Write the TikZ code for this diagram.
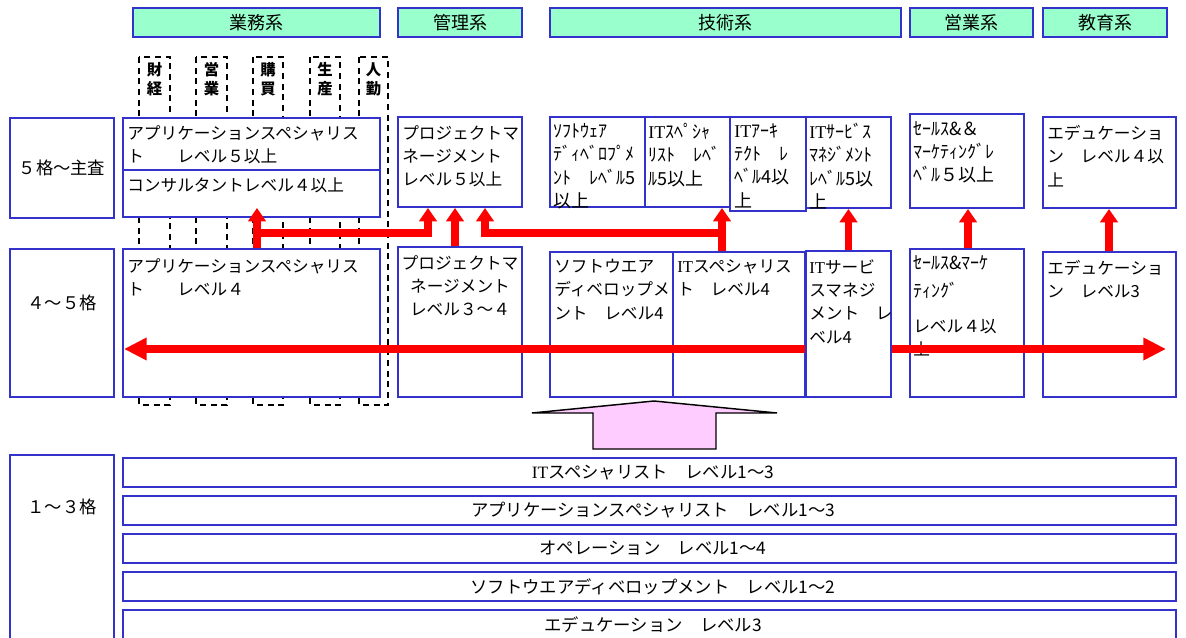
\documentclass[tikz,border=0pt]{standalone}
\usepackage{fontspec}
\setmainfont{Noto Sans CJK JP}
\newfontfamily\lsr{Liberation Serif}
\usetikzlibrary{arrows.meta,fit}
\definecolor{bb}{HTML}{3333CC}
\definecolor{hg}{HTML}{99FFCC}
\definecolor{pk}{HTML}{FFCCFF}
\newcommand{\IT}{{\lsr IT}}
\tikzset{
  bx/.style={draw=bb, line width=1.5pt, fill=white, inner sep=0pt},
  hd/.style={draw=bb, line width=1.5pt, fill=hg, inner sep=0pt},
  hdt/.style={font=\fontsize{13.5}{15}\selectfont, inner sep=0pt},
  lab/.style={font=\fontsize{13}{15}\selectfont, inner sep=0pt},
  txt/.style={anchor=north west, inner sep=0pt, align=left, font=\fontsize{12.5}{17.5}\selectfont},
  htxt/.style={anchor=north west, inner sep=0pt, align=left, font=\fontsize{13.5}{17.5}\selectfont},
  ctxt/.style={anchor=north, inner sep=0pt, align=center, font=\fontsize{12.5}{17.5}\selectfont},
  col/.style={draw=black, line width=1.1pt, dash pattern=on 4.5pt off 3.5pt},
  coltxt/.style={inner sep=0pt, align=center, font=\bfseries\fontsize{11.5}{14.2}\selectfont},
  redl/.style={draw=red, line width=5.5pt},
  upar/.style={redl, -{Triangle[length=10pt,width=13pt]}},
  bigar/.style={redl, {Triangle[length=17pt,width=16pt]}-{Triangle[length=17pt,width=16pt]}},
  bar/.style={draw=bb, line width=1.5pt, fill=white, inner sep=0pt}
}
\begin{document}
\begin{tikzpicture}[x=0.75pt,y=-0.75pt]
\useasboundingbox (0,0) rectangle (1186,638);
% dashed sub-columns
\draw[col] (139,57) rectangle (170,405);
\draw[col] (196,57) rectangle (227,405);
\draw[col] (253,57) rectangle (283,405);
\draw[col] (310,57) rectangle (340,405);
\draw[col] (359,57) rectangle (388,405);
\node[coltxt] (c1) at (154.5,79.5) {財\\経};
\node[coltxt] (c2) at (211.5,79.5) {営\\業};
\node[coltxt] (c3) at (268,79.5) {購\\買};
\node[coltxt] (c4) at (325,79.5) {生\\産};
\node[coltxt] (c5) at (373.5,79.5) {人\\勤};
% headers
\node[hd, fit={(133,8)(380,37)}] (hBiz) {};
\node[hdt] (hBizT) at (hBiz.center) {業務系};
\node[hd, fit={(398,8)(522,37)}] (hMgt) {};
\node[hdt] (hMgtT) at (hMgt.center) {管理系};
\node[hd, fit={(550,8)(901,37)}] (hTec) {};
\node[hdt] (hTecT) at (hTec.center) {技術系};
\node[hd, fit={(910,8)(1033,37)}] (hSal) {};
\node[hdt] (hSalT) at (hSal.center) {営業系};
\node[hd, fit={(1043,8)(1167,37)}] (hEdu) {};
\node[hdt] (hEduT) at (hEdu.center) {教育系};
% left labels
\node[bx, fit={(10,118)(114,218)}] (lTop) {};
\node[lab] (lTopT) at (62,168) {５格〜主査};
\node[bx, fit={(10,249)(114,397)}] (lMid) {};
\node[lab] (lMidT) at (62,303) {４〜５格};
\node[bx, fit={(10,455)(114,645)}] (lBot) {};
\node[lab] (lBotT) at (62,507) {１〜３格};
% top row
\node[bx, fit={(123,118)(380,217)}] (appTop) {};
\draw[draw=bb, line width=1.5pt] (appTop.west |- 0,170) -- (appTop.east |- 0,170);
\node[txt] (appTopT) at (127,125) {アプリケーションスペシャリス\\ト　　レベル５以上};
\node[txt] (appTopT2) at (127,177) {コンサルタントレベル４以上};
\node[bx, fit={(398,117)(522,207)}] (pmTop) {};
\node[txt] (pmTopT) at (402,125) {プロジェクトマ\\ネージメント\\レベル５以上};
\node[bx, fit={(550,117)(645,207)}] (sdTop) {};
\node[bx, fit={(645,117)(730,207)}] (isTop) {};
\node[bx, fit={(730,117)(806,211)}] (iaTop) {};
\node[bx, fit={(806,117)(891,208)}] (smTop) {};
\node[htxt] (sdTopT) at (553,123) {ｿﾌﾄｳｪｱ\\ﾃﾞｨﾍﾞﾛﾌﾟﾒ\\ﾝﾄ　ﾚﾍﾞﾙ5\\以上};
\node[htxt] (isTopT) at (648,123) {\IT ｽﾍﾟｼｬ\\ﾘｽﾄ　ﾚﾍﾞ\\ﾙ5以上};
\node[htxt] (iaTopT) at (734,123) {\IT ｱｰｷ\\ﾃｸﾄ　ﾚ\\ﾍﾞﾙ4以\\上};
\node[htxt] (smTopT) at (809,123) {\IT ｻｰﾋﾞｽ\\ﾏﾈｼﾞﾒﾝﾄ\\ﾚﾍﾞﾙ5以\\上};
\node[bx, fit={(910,114)(1024,208)}] (slTop) {};
\node[htxt] (slTopT) at (913,121) {ｾｰﾙｽ\&＆\\ﾏｰｹﾃｨﾝｸﾞﾚ\\ﾍﾞﾙ５以上};
\node[bx, fit={(1043,117)(1176,208)}] (edTop) {};
\node[txt] (edTopT) at (1047,125) {エデュケーショ\\ン　レベル４以\\上};
% middle row
\node[bx, fit={(123,249)(380,397)}] (appMid) {};
\node[txt] (appMidT) at (127,258) {アプリケーションスペシャリス\\ト　　レベル４};
\node[bx, fit={(398,247)(522,397)}] (pmMid) {};
\node[ctxt] (pmMidT) at (460,255) {プロジェクトマ\\ネージメント\\レベル３〜４};
\node[bx, fit={(550,252)(673,397)}] (sdMid) {};
\node[txt] (sdMidT) at (554,259) {ソフトウエア\\ディベロップメ\\ント　レベル4};
\node[bx, fit={(673,252)(805,397)}] (isMid) {};
\node[txt] (isMidT) at (677,259) {\IT スペシャリス\\ト　レベル4};
\node[bx, fit={(910,249)(1024,397)}] (slMid) {};
\node[htxt, font=\fontsize{13.5}{21.5}\selectfont] (slMidA) at (913,255) {ｾｰﾙｽ\&ﾏｰｹ\\ﾃｨﾝｸﾞ};
\node[txt] (slMidB) at (913,319) {レベル４以\\上};
\node[bx, fit={(1043,252)(1176,397)}] (edMid) {};
\node[txt] (edMidT) at (1047,260) {エデュケーショ\\ン　レベル3};
% big double arrow
\coordinate (bigL) at (124,349);
\coordinate (bigR) at (1166,349);
\draw[bigar] (bigL) -- (bigR);
% IT service middle box above the arrow
\node[bx, fit={(806,251)(891,397)}] (smMid) {};
\node[txt] (smMidT) at (809,259) {\IT サービ\\スマネジ\\メント　レ\\ベル4};
% upward arrows
\draw[upar] (257,0 |- appMid.north) -- (257,208);
\draw[upar] (257,233) -- (428,233) -- (428,0 |- pmTop.south);
\draw[upar] (455,0 |- pmMid.north) -- (455,0 |- pmTop.south);
\draw[upar] (722,0 |- isMid.north) -- (722,0 |- isTop.south);
\draw[upar] (722,233) -- (485,233) -- (485,0 |- pmTop.south);
\draw[upar] (smMid.north) -- (smMid.north |- smTop.south);
\draw[upar] (968,0 |- slMid.north) -- (968,0 |- slTop.south);
\draw[upar] (1109,0 |- edMid.north) -- (1109,0 |- edTop.south);
% pink block arrow
\draw[fill=pk, draw=black, line width=1.1pt] (593,449) -- (593,413) -- (532,413) -- (654,401) -- (777,413) -- (716,413) -- (716,449) -- cycle;
% bottom bars
\node[bar, fit={(123,458)(1176,487)}] (b1) {};
\node[lab] (b1T) at (653,472.5) {\IT スペシャリスト　レベル1〜3};
\node[bar, fit={(123,496)(1176,525)}] (b2) {};
\node[lab] (b2T) at (653,510.5) {アプリケーションスペシャリスト　レベル1〜3};
\node[bar, fit={(123,534)(1176,563)}] (b3) {};
\node[lab] (b3T) at (653,548.5) {オペレーション　レベル1〜4};
\node[bar, fit={(123,572)(1176,601)}] (b4) {};
\node[lab] (b4T) at (653,586.5) {ソフトウエアディベロップメント　レベル1〜2};
\node[bar, fit={(123,610)(1176,640)}] (b5) {};
\node[lab] (b5T) at (653,625) {エデュケーション　レベル3};
\end{tikzpicture}
\end{document}
